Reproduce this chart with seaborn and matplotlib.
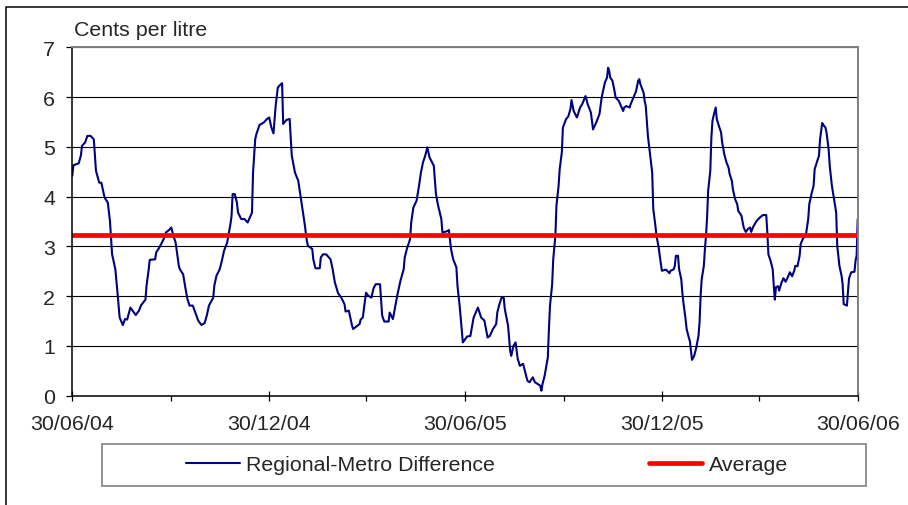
"""
Regional-Metro petrol price difference (cents per litre), 30/06/04 - 30/06/06,
with the period average drawn as a flat red line.
"""

import pandas as pd
import matplotlib
matplotlib.use("Agg")
import matplotlib.pyplot as plt
import matplotlib.dates as mdates
from matplotlib.patches import Rectangle
import seaborn as sns

START = "2004-06-30"
END = "2006-06-30"

# days after 30/06/04 and the difference
day = [
    0, 1, 6, 8, 9, 12, 14, 17, 20, 21, 22, 25, 27, 30, 33, 35, 37, 40, 42, 43,
    44, 47, 49, 51, 54, 56, 59, 62, 64, 68, 69, 71, 72, 77, 78, 81, 85, 87, 90, 92,
    94, 96, 99, 100, 103, 105, 107, 109, 112, 114, 117,
    120, 123, 125, 127, 131, 132, 134, 137, 139, 141, 144, 145, 147, 148, 149, 151,
    153, 154, 157, 160, 163, 167, 168, 170, 171, 174, 178, 181, 183, 185, 187, 189,
    191, 193, 195, 196, 199, 202, 204, 207, 210, 213, 216, 218, 219, 223, 224, 226,
    230, 231, 233, 236, 240, 242, 244,
    247, 250, 253, 254, 257, 260, 261, 264, 267, 268, 270, 273, 275, 278, 280, 282,
    286, 288, 290, 294, 295, 298, 302, 305, 308, 309, 311, 314, 315, 317, 320, 322,
    324, 326, 328, 330, 332, 336, 338, 340, 343, 344, 346, 349, 350, 352, 354, 357,
    358, 360, 363, 367, 370,
    373, 375, 377, 380, 383, 386, 388, 391, 394, 395, 397, 399, 401, 402, 405, 407,
    408, 410, 412, 414, 416, 419, 421, 423, 425, 428, 430, 433, 435, 436, 437, 439,
    442, 443, 444, 446, 447, 449, 450, 452, 453, 455, 456, 459, 461, 463, 464, 466,
    469, 472, 474, 477, 479, 482, 484, 487, 490, 492, 495,
    497, 498, 499, 500, 502, 504, 505, 508, 510, 512, 513, 515, 518, 519, 521, 524,
    526, 527, 528, 531, 532, 533, 535, 537, 539, 540, 542, 543, 545, 546, 548, 551,
    552, 555, 556, 559, 560, 561, 563, 564, 566, 567, 568, 570, 571, 573, 574, 575,
    576, 578, 580, 582, 583, 584, 585, 587, 588, 589, 590, 591, 593, 594, 595, 596,
    598, 599, 601, 603, 604, 606, 608, 610, 611, 613, 614, 616, 618, 619, 621,
    622, 624, 626, 628, 630, 631, 633, 636, 639, 642, 645, 646, 647, 649, 651, 652,
    653, 654, 656, 657, 659, 661, 663, 665, 667, 669, 671, 672, 674, 676, 677, 679,
    682, 684, 685, 687, 689, 690, 692, 694, 695, 697, 698, 700, 701, 703, 704, 706,
    708, 710, 711, 712, 713, 715, 716, 717, 720, 721, 722, 724, 727, 728, 729, 730,
]
cents = [
    4.42, 4.63, 4.67, 4.83, 5.02, 5.09, 5.22, 5.22, 5.15, 4.82, 4.52, 4.28, 4.28, 3.98, 3.88, 3.51, 2.84, 2.54, 2.07, 1.81,
    1.57, 1.42, 1.54, 1.53, 1.77, 1.71, 1.62, 1.71, 1.82, 1.93, 2.21, 2.54, 2.73, 2.74, 2.88, 2.98, 3.15, 3.28, 3.33, 3.38,
    3.21, 3.08, 2.61, 2.54, 2.44, 2.18, 1.94, 1.81, 1.81, 1.69, 1.51,
    1.42, 1.46, 1.61, 1.81, 1.97, 2.21, 2.41, 2.54, 2.71, 2.91, 3.08, 3.21, 3.45, 3.61, 4.05, 4.05,
    3.88, 3.68, 3.55, 3.55, 3.48, 3.68, 4.48, 5.15, 5.25, 5.44, 5.49, 5.56, 5.59, 5.39, 5.27, 5.82,
    6.19, 6.24, 6.28, 5.46, 5.54, 5.56, 4.82, 4.48, 4.32, 3.88, 3.45, 3.11, 3.01, 2.95, 2.74, 2.56,
    2.56, 2.78, 2.84, 2.84, 2.74, 2.54, 2.28,
    2.06, 1.97, 1.84, 1.69, 1.71, 1.41, 1.34, 1.39, 1.44, 1.53, 1.57, 2.07, 2.01, 1.97, 2.16, 2.24,
    2.24, 1.61, 1.49, 1.49, 1.67, 1.54, 2.01, 2.31, 2.54, 2.78, 2.95, 3.15, 3.48, 3.78, 3.92, 4.18,
    4.48, 4.69, 4.82, 4.99, 4.79, 4.62, 4.05, 3.82, 3.55, 3.28, 3.29, 3.31, 3.33, 2.95, 2.74, 2.58,
    2.21, 1.81, 1.07, 1.19, 1.20,
    1.57, 1.67, 1.77, 1.57, 1.51, 1.17, 1.20, 1.34, 1.44, 1.67, 1.84, 1.97, 1.97, 1.74, 1.41, 0.90,
    0.80, 1.00, 1.07, 0.74, 0.60, 0.64, 0.47, 0.30, 0.27, 0.37, 0.27, 0.23, 0.20, 0.10, 0.23, 0.40,
    0.77, 1.34, 1.81, 2.24, 2.74, 3.21, 3.82, 4.22, 4.55, 4.89, 5.39, 5.56, 5.61, 5.76, 5.94, 5.72,
    5.59, 5.79, 5.86, 6.02, 5.86, 5.69, 5.35, 5.49, 5.66, 5.99, 6.29,
    6.39, 6.59, 6.53, 6.39, 6.33, 6.12, 5.99, 5.92, 5.82, 5.72, 5.79, 5.82, 5.79, 5.86, 5.96, 6.12,
    6.33, 6.36, 6.26, 6.09, 5.92, 5.82, 5.22, 4.85, 4.48, 3.75, 3.41, 3.21, 2.98, 2.81, 2.51, 2.53,
    2.53, 2.46, 2.51, 2.54, 2.61, 2.81, 2.81, 2.54, 2.34, 2.07, 1.87, 1.54, 1.34, 1.17, 1.10, 0.90,
    0.72, 0.80, 0.97, 1.20, 1.47, 2.01, 2.34, 2.61, 2.95, 3.21, 3.58, 4.12, 4.52, 5.19, 5.52, 5.62,
    5.79, 5.56, 5.42, 5.29, 5.09, 4.85, 4.69, 4.58, 4.45, 4.32, 4.15, 3.95, 3.85, 3.71, 3.65,
    3.61, 3.38, 3.29, 3.35, 3.38, 3.29, 3.40, 3.51, 3.58, 3.63, 3.63, 3.28, 2.84, 2.71, 2.54, 2.21,
    1.93, 2.18, 2.20, 2.11, 2.26, 2.36, 2.29, 2.38, 2.48, 2.40, 2.51, 2.61, 2.60, 2.81, 3.05, 3.15,
    3.25, 3.55, 3.85, 4.05, 4.22, 4.55, 4.69, 4.82, 5.15, 5.48, 5.44, 5.39, 5.29, 4.95, 4.62, 4.22,
    3.95, 3.68, 3.01, 2.81, 2.61, 2.41, 2.24, 1.84, 1.81, 2.11, 2.36, 2.48, 2.49, 2.71, 2.81, 3.55,
]
average = 3.22

major_dates = ["2004-06-30", "2004-12-30", "2005-06-30", "2005-12-30", "2006-06-30"]
minor_dates = ["2004-09-30", "2005-03-30", "2005-09-30", "2006-03-30"]
y_ticks = [0, 1, 2, 3, 4, 5, 6, 7]

sns.set_style("white")
plt.rcParams.update({
    "font.family": ["Liberation Sans", "DejaVu Sans"],
    "font.size": 15.4,
    "xtick.labelsize": 15.4,
    "ytick.labelsize": 15.4,
})

W, H = 908, 506
diff = pd.DataFrame({
    "date": pd.Timestamp(START) + pd.to_timedelta(day, unit="D"),
    "cents": cents,
})
avg = pd.DataFrame({"date": pd.to_datetime([START, END]), "cents": [average, average]})

fig = plt.figure(figsize=(W / 100, H / 100), dpi=100)
ax = fig.add_axes([72.3 / W, 1 - 396.7 / H, 785.4 / W, 348.4 / H])

sns.lineplot(data=diff, x="date", y="cents", ax=ax, color="#000080", lw=1.5,
             estimator=None, sort=False, label="Regional-Metro Difference")
sns.lineplot(data=avg, x="date", y="cents", ax=ax, color="#ff0000", lw=3.4,
             estimator=None, label="Average")

ax.set_xlim(pd.Timestamp(START), pd.Timestamp(END))
ax.set_ylim(0, 7)
ax.set_xlabel("")
ax.set_ylabel("")
ax.set_yticks(y_ticks)
ax.set_xticks(pd.to_datetime(major_dates))
ax.set_xticks(pd.to_datetime(minor_dates), minor=True)
ax.xaxis.set_major_formatter(mdates.DateFormatter("%d/%m/%y"))

ax.yaxis.grid(True, color="black", lw=0.8)
ax.xaxis.grid(False)
ax.set_axisbelow(True)
ax.tick_params(axis="y", direction="out", length=4.3, width=0.9, color="black", pad=8, left=True)
ax.tick_params(axis="x", which="major", direction="inout", length=7, width=0.9, color="black", pad=10, bottom=True)
ax.tick_params(axis="x", which="minor", direction="out", length=3.5, width=0.9, color="black", bottom=True)

for side in ["left", "bottom"]:
    ax.spines[side].set_color("black")
    ax.spines[side].set_linewidth(1.1)
for side in ["top", "right"]:
    ax.spines[side].set_color("#808080")
    ax.spines[side].set_linewidth(1.4)
    ax.spines[side].set_visible(True)

fig.text(74 / W, 1 - 36 / H, "Cents per litre", ha="left", va="baseline")

ax.legend_.remove()
handles, labels = ax.get_legend_handles_labels()
fig.legend(handles, labels, loc="center", bbox_to_anchor=(487 / W, 1 - 465.5 / H),
           bbox_transform=fig.transFigure, ncol=2, frameon=False,
           handlelength=2.5, handletextpad=0.3, columnspacing=7.2)
fig.add_artist(Rectangle((102 / W, 1 - 487 / H), 764 / W, 42.5 / H, transform=fig.transFigure,
                         fill=False, edgecolor="#808080", lw=1.2))

# chart area border, only its top and left edges fall inside the picture
fig.add_artist(Rectangle((6 / W, -0.05), 1.2, 1.05 - 8 / H, transform=fig.transFigure,
                         fill=False, edgecolor="black", lw=1.1))

fig.savefig("out.png", dpi=100)
plt.close(fig)
